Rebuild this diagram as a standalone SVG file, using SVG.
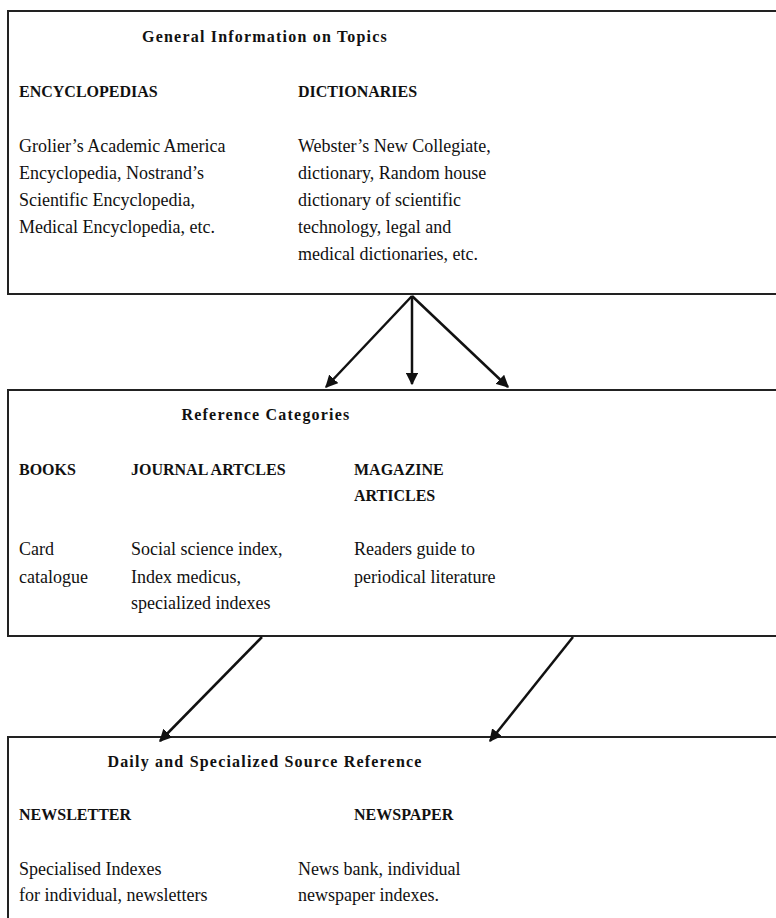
<svg xmlns="http://www.w3.org/2000/svg" width="776" height="918" viewBox="0 0 776 918">
<defs>
<style>
.box{fill:#fff;stroke:#222;stroke-width:2}
.t{font-family:"Liberation Serif",serif;font-size:18px;fill:#111}
.h{font-family:"Liberation Serif",serif;font-size:16px;font-weight:bold;fill:#111}
.ti{font-family:"Liberation Serif",serif;font-size:16px;font-weight:bold;fill:#111;text-anchor:middle;letter-spacing:1.2px}
.c{stroke:#111;stroke-width:2.5;fill:none;marker-end:url(#ah)}
</style>
<marker id="ah" viewBox="0 0 10 10" refX="9" refY="5" markerWidth="5" markerHeight="5" orient="auto" markerUnits="strokeWidth">
<path d="M0,0 L10,5 L0,10 z" fill="#111"/>
</marker>
</defs>
<rect width="776" height="918" fill="#fff"/>
<g id="general">
<rect class="box" x="8" y="11" width="780" height="283"/>
<text class="ti" x="265" y="42">General Information on Topics</text>
<text class="h" x="19" y="97">ENCYCLOPEDIAS</text>
<text class="h" x="298" y="97">DICTIONARIES</text>
<text class="t" x="19" y="152">Grolier’s Academic America</text>
<text class="t" x="19" y="179">Encyclopedia, Nostrand’s</text>
<text class="t" x="19" y="206">Scientific Encyclopedia,</text>
<text class="t" x="19" y="233">Medical Encyclopedia, etc.</text>
<text class="t" x="298" y="152">Webster’s New Collegiate,</text>
<text class="t" x="298" y="179">dictionary, Random house</text>
<text class="t" x="298" y="206">dictionary of scientific</text>
<text class="t" x="298" y="233">technology, legal and</text>
<text class="t" x="298" y="260">medical dictionaries, etc.</text>
</g>
<g id="categories">
<rect class="box" x="8" y="390" width="780" height="246"/>
<text class="ti" x="266" y="420">Reference Categories</text>
<text class="h" x="19" y="475">BOOKS</text>
<text class="h" x="131" y="475">JOURNAL ARTCLES</text>
<text class="h" x="354" y="475">MAGAZINE</text>
<text class="h" x="354" y="501">ARTICLES</text>
<text class="t" x="19" y="555">Card</text>
<text class="t" x="19" y="583">catalogue</text>
<text class="t" x="131" y="555">Social science index,</text>
<text class="t" x="131" y="583">Index medicus,</text>
<text class="t" x="131" y="609">specialized indexes</text>
<text class="t" x="354" y="555">Readers guide to</text>
<text class="t" x="354" y="583">periodical literature</text>
</g>
<g id="daily">
<rect class="box" x="8" y="737" width="780" height="200"/>
<text class="ti" x="265" y="767">Daily and Specialized Source Reference</text>
<text class="h" x="19" y="820">NEWSLETTER</text>
<text class="h" x="354" y="820">NEWSPAPER</text>
<text class="t" x="19" y="875">Specialised Indexes</text>
<text class="t" x="19" y="901">for individual, newsletters</text>
<text class="t" x="298" y="875">News bank, individual</text>
<text class="t" x="298" y="901">newspaper indexes.</text>
</g>
<g id="connectors">
<line class="c" x1="412" y1="296" x2="326" y2="387"/>
<line class="c" x1="412" y1="296" x2="412" y2="384"/>
<line class="c" x1="412" y1="296" x2="508" y2="387"/>
<line class="c" x1="262" y1="637" x2="160" y2="741"/>
<line class="c" x1="573" y1="637" x2="490" y2="741"/>
</g>
</svg>
